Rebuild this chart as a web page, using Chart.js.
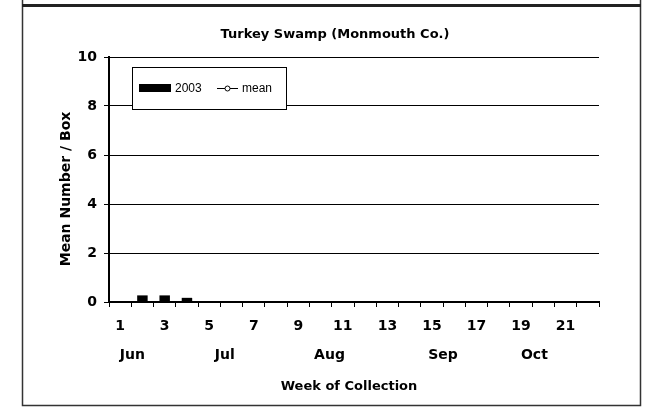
<!DOCTYPE html>
<html>
<head>
<meta charset="utf-8">
<script src="https://cdn.jsdelivr.net/npm/chart.js@4.4.1/dist/chart.umd.min.js"></script>
<style>
  html,body{margin:0;padding:0;background:#fff;}
  #wrap{width:645px;height:407px;position:relative;}
</style>
</head>
<body>
<div id="wrap"><canvas id="c" width="645" height="407"></canvas></div>
<script>
// values
const weeks = ['1','2','3','4','5','6','7','8','9','10','11','12','13','14','15','16','17','18','19','20','21','22'];
const counts2003 = [null,0.27,0.27,0.17,null,null,null,null,null,null,null,null,null,null,null,null,null,null,null,null,null,null];
const meanVals = weeks.map(()=>null);
const months = ['Jun','Jul','Aug','Sep','Oct'];
const monthWeek = [1.55,5.7,10.4,15.5,19.6];
const yTicks = [0,2,4,6,8,10];

const BOLD = "'DejaVu Sans', 'Liberation Sans', sans-serif";
const PLAIN = "'Liberation Sans', Arial, sans-serif";
Chart.defaults.font.family = BOLD;
Chart.defaults.color = '#000';

// frame, titles, legend and month row
const extras = {
  id:'extras',
  beforeDraw(chart){
    const c = chart.ctx;
    c.save();
    c.fillStyle='#fff'; c.fillRect(0,0,chart.width,chart.height);
    c.strokeStyle='#333'; c.lineWidth=1.5;
    c.beginPath();
    c.moveTo(22.5,0); c.lineTo(22.5,405.5); c.lineTo(640.5,405.5); c.lineTo(640.5,0);
    c.stroke();
    c.fillStyle='#222'; c.fillRect(22,4,619,3);
    c.restore();
  },
  afterDraw(chart){
    const c = chart.ctx, x = chart.scales.x;
    c.save();
    c.fillStyle='#000';
    c.textAlign='center'; c.textBaseline='middle';
    c.font = "bold 13px "+BOLD;
    c.fillText('Turkey Swamp (Monmouth Co.)', 335, 35);
    c.fillText('Week of Collection', 349, 387);
    c.font = "bold 14px "+BOLD;
    months.forEach((m,i)=>{ c.fillText(m, x.getPixelForValue(monthWeek[i]-1), 355); });
    c.save();
    c.translate(66,189); c.rotate(-Math.PI/2);
    c.fillText('Mean Number / Box', 0, 0);
    c.restore();
    // legend
    c.fillStyle='#fff'; c.fillRect(132,67,154,42);
    c.strokeStyle='#000'; c.lineWidth=1; c.strokeRect(132.5,67.5,154,42);
    c.fillStyle='#000'; c.fillRect(139,84,32,8);
    c.font = "12px "+PLAIN; c.textAlign='left';
    const ds = chart.data.datasets;
    c.fillText(ds[0].label, 175, 88.5);
    c.beginPath(); c.moveTo(217,88.5); c.lineTo(238,88.5); c.stroke();
    c.beginPath(); c.arc(227.5,88.5,2.5,0,Math.PI*2); c.fillStyle='#fff'; c.fill(); c.stroke();
    c.fillStyle='#000'; c.fillText(ds[1].label, 242, 88.5);
    c.restore();
  }
};

new Chart(document.getElementById('c'), {
  type:'bar',
  data:{
    labels: weeks,
    datasets:[
      {label:'2003', data:counts2003, backgroundColor:'#000', barPercentage:0.47, categoryPercentage:1},
      {type:'line', label:'mean', data:meanVals, borderColor:'#000', borderWidth:1, pointRadius:2.5, pointBackgroundColor:'#fff', pointBorderColor:'#000'}
    ]
  },
  options:{
    responsive:false, animation:false,
    layout:{padding:{left:22, right:46, top:57, bottom:0}},
    plugins:{legend:{display:false}, title:{display:false}, tooltip:{enabled:false}},
    scales:{
      x:{
        offset:true,
        grid:{offset:true, drawOnChartArea:false, drawTicks:true, tickLength:5, color:'#000', lineWidth:1},
        border:{color:'#000', width:2},
        ticks:{autoSkip:false, maxRotation:0, padding:11, font:{weight:'bold', size:14},
          callback:(v,i)=> i%2===0 ? weeks[i] : ''},
        afterFit:s=>{ s.height = 105; }
      },
      y:{
        min:0, max:10,
        afterBuildTicks:s=>{ s.ticks = yTicks.map(v=>({value:v})); },
        grid:{color:'#000', lineWidth:1, tickLength:5},
        border:{color:'#000', width:2},
        ticks:{padding:7, font:{weight:'bold', size:14}},
        afterFit:s=>{ s.width = 87; }
      }
    }
  },
  plugins:[extras]
});
</script>
</body>
</html>
